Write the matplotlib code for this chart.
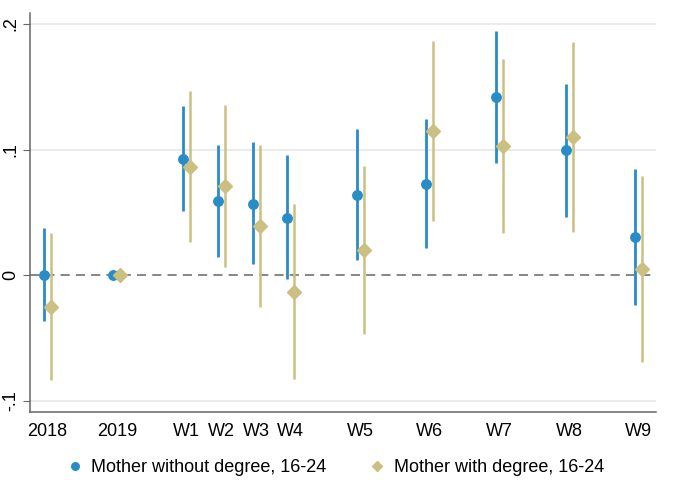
import matplotlib
matplotlib.use("Agg")
import matplotlib.pyplot as plt

plt.rcParams['font.family'] = ['Liberation Sans', 'DejaVu Sans']

# positions on the time axis (gaps between years / waves kept)
labels = ["2018", "2019", "W1", "W2", "W3", "W4", "W5", "W6", "W7", "W8", "W9"]
xpos = [0, 2, 4, 5, 6, 7, 9, 11, 13, 15, 17]

# Mother without degree, 16-24
nodeg = [0.0, 0.0, 0.0927, 0.059, 0.0568, 0.0454, 0.0637, 0.0728, 0.1416, 0.0993, 0.0303]
nodeg_lo = [-0.037, 0.0, 0.0512, 0.0146, 0.0088, -0.0035, 0.012, 0.0219, 0.089, 0.0465, -0.0239]
nodeg_hi = [0.0377, 0.0, 0.1347, 0.104, 0.1057, 0.0954, 0.116, 0.1246, 0.1947, 0.1522, 0.0845]

# Mother with degree, 16-24
deg = [-0.0253, 0.0, 0.0863, 0.0712, 0.0388, -0.0135, 0.0199, 0.1147, 0.103, 0.11, 0.0048]
deg_lo = [-0.0837, 0.0, 0.0263, 0.0066, -0.0258, -0.0831, -0.047, 0.043, 0.0332, 0.034, -0.069]
deg_hi = [0.0332, 0.0, 0.1469, 0.1355, 0.1036, 0.0566, 0.0871, 0.1865, 0.1724, 0.1854, 0.0789]

blue = '#2a8cc6'
tan = '#cbc081'
off = 0.1

fig = plt.figure(figsize=(6.88, 4.94), dpi=100)
ax = fig.add_axes([30/688, 1 - 411.7/494, 626/688, 398.7/494])

ax.axhline(0, color='#666666', lw=1.1, ls=(0, (6, 4)), zorder=1)
for yg in [-0.1, 0.1, 0.2]:
    ax.axhline(yg, color='#e8e8e8', lw=1.2, zorder=0)

xb = [x - off for x in xpos]
xt = [x + off for x in xpos]
ax.vlines(xb, nodeg_lo, nodeg_hi, color=blue, lw=2.0, zorder=2)
ax.vlines(xt, deg_lo, deg_hi, color=tan, lw=1.8, zorder=2)
pb, = ax.plot(xb, nodeg, 'o', color=blue, ms=6.8, ls='none', zorder=3)
pt, = ax.plot(xt, deg, 'D', color=tan, ms=6.8, ls='none', zorder=3)

ax.set_xlim(-0.5, 17.5)
ax.set_ylim(-0.1089, 0.2088)
ax.set_xticks(xpos)
ax.set_xticklabels(labels, fontsize=13)
ax.tick_params(axis='x', length=0, pad=8)
ax.set_yticks([-0.1, 0, 0.1, 0.2])
ax.set_yticklabels(["-.1", "0", ".1", ".2"], fontsize=13, rotation=90, va='center')
ax.tick_params(axis='y', length=5, color='#666666', pad=3)

for s in ['top', 'right']:
    ax.spines[s].set_visible(False)
for s in ['left', 'bottom']:
    ax.spines[s].set_color('#666666')
    ax.spines[s].set_linewidth(1.1)

fig.legend([pb, pt], ["Mother without degree, 16-24", "Mother with degree, 16-24"],
           loc='center', bbox_to_anchor=(335/688, 1 - 468/494), ncol=2,
           frameon=False, fontsize=13, handlelength=1.0, handletextpad=0.4,
           columnspacing=2.3, markerscale=0.8)

fig.savefig('out.png', dpi=100)
